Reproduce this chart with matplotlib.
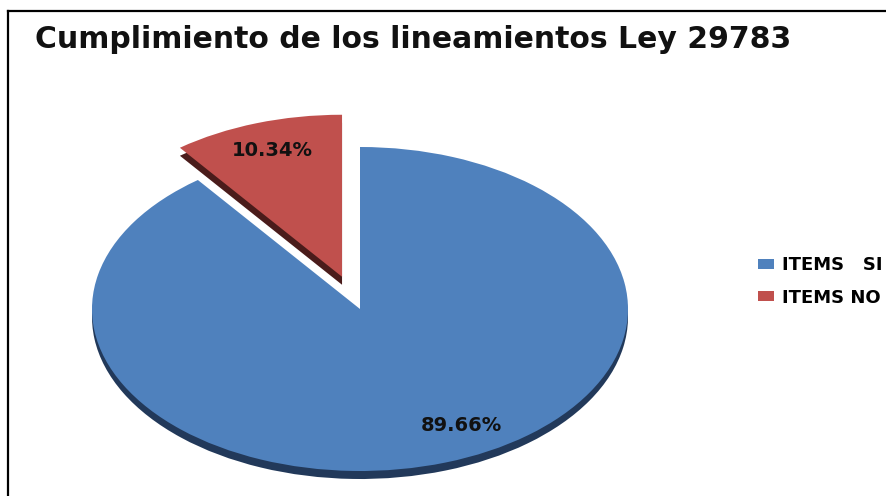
import matplotlib.pyplot as plt
from matplotlib.lines import Line2D

# data
labels = ["ITEMS   SI", "ITEMS NO"]
values = [89.66, 10.34]
colors = ["#4F81BD", "#C0504D"]
side_colors = ["#22395A", "#4A1C1B"]
explode = [0, 0.21]

title = "Cumplimiento de los lineamientos Ley 29783"

W, H = 886, 496
fig = plt.figure(figsize=(W / 100, H / 100), dpi=100)
ax = fig.add_axes([0, 0, 1, 1])

# pie geometry in pixels (centre measured from the top)
cx, cy = 360, 309
rx, ry = 268, 162
depth = 8

# darker copy shifted down gives the 3D side
ax.pie(values, colors=side_colors, startangle=90, counterclock=False,
       explode=explode, center=(0, -depth / ry),
       wedgeprops=dict(linewidth=0))

wedges, texts, autotexts = ax.pie(
    values, colors=colors, startangle=90, counterclock=False,
    explode=explode, autopct="%.2f%%", pctdistance=0.82,
    wedgeprops=dict(linewidth=0),
    textprops=dict(fontsize=14, fontweight="bold", color="#111111",
                   family="DejaVu Sans"))

# Excel puts the big label lower right
autotexts[0].set_position((0.38, -0.72))

ax.set_aspect("auto")
ax.set_xlim(-cx / rx, (W - cx) / rx)
ax.set_ylim(-(H - cy) / ry, cy / ry)
ax.axis("off")

# legend, cut off by the right edge like the original
ax.legend(wedges, labels, loc="upper left",
          bbox_to_anchor=(742 / W, 1 - 240 / H), bbox_transform=fig.transFigure,
          frameon=False, handlelength=0.85, handleheight=0.5, handletextpad=0.45,
          labelspacing=0.8,
          prop=dict(size=13, weight="bold", family="DejaVu Sans"))

# title
fig.text(35 / W, 1 - 48 / H, title, fontsize=21.5, fontweight="bold",
         family="DejaVu Sans", va="baseline", ha="left", color="#111111")

# chart border (only left and top visible)
top = 1 - 11 / H
left = 8 / W
fig.add_artist(Line2D([left, left], [0, top], color="black", lw=1.6,
                      transform=fig.transFigure))
fig.add_artist(Line2D([left, 1], [top, top], color="black", lw=1.6,
                      transform=fig.transFigure))

fig.savefig("out.png", dpi=100)
